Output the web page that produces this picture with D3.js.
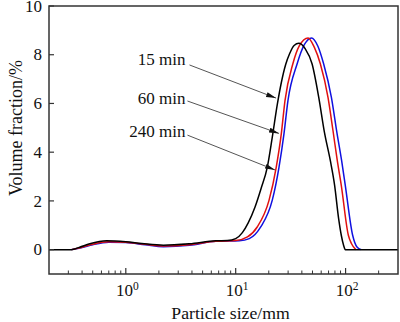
<!DOCTYPE html>
<html><head><meta charset="utf-8">
<script src="https://cdn.jsdelivr.net/npm/d3@7"></script>
<style>body{margin:0;background:#fff}svg{display:block}</style>
</head><body>
<svg id="c" width="400" height="322"></svg>
<script>
const sizes15 = [0.2,0.32,0.38,0.47,0.67,1.0,1.4,2.2,3.8,6.6,8.4,10,11.5,13,15,17,19.4,21.5,23.9,26,28.5,31,34,37.6,43,49.6,57,64.3,72.6,79.5,86.4,91.4,95.9,99.5,300];
const values15 = [0,0,0.1,0.24,0.36,0.32,0.25,0.18,0.24,0.36,0.37,0.45,0.7,1.1,1.75,2.5,3.39,4.6,5.95,6.85,7.6,8.05,8.38,8.47,8.24,7.62,6.25,4.8,3.66,2.64,1.28,0.59,0.18,0,0];
const sizes60 = [0.32,0.4,0.5,0.7,1.0,1.5,2.2,3.8,6.6,10,12.8,15.7,20.1,23.4,26,28.1,33.1,38,45.6,52,59,69.2,76.8,84,91.4,106,113,124];
const values60 = [0,0.1,0.22,0.32,0.3,0.22,0.15,0.2,0.34,0.37,0.52,0.93,2.02,3.39,4.75,6.12,7.62,8.37,8.69,8.3,7.62,6.25,4.89,3.66,2.64,0.59,0.25,0];
const sizes240 = [0.32,0.4,0.5,0.7,1.0,1.5,2.2,3.8,6.6,10.8,13.3,16.9,21.5,24.8,27.5,29.9,36.2,42,49,56,63.2,74.3,83.4,92,99.4,116,127,139];
const values240 = [0,0.09,0.2,0.3,0.29,0.2,0.12,0.18,0.34,0.36,0.45,0.93,2.02,3.39,4.75,6.12,7.62,8.4,8.69,8.35,7.62,6.25,4.8,3.66,2.64,0.59,0.11,0];
const seriesNames = ["240 min","60 min","15 min"];
const seriesColors = ["#1010e0","#e01010","#000000"];
const yTicks = [0,2,4,6,8,10];
const xMajor = [1,10,100];
const xMajorExp = ["0","1","2"];
const xMinor = [0.3,0.4,0.5,0.6,0.7,0.8,0.9,2,3,4,5,6,7,8,9,20,30,40,50,60,70,80,90,200];
// annotation: label end point and arrow tip (data units)
const annoLabel = [[3.49,7.58],[3.49,5.98],[3.49,4.61]];
const annoStart = [[3.8,7.58],[3.64,6.1],[3.64,4.7]];
const annoTip = [[23.3,6.22],[24.8,4.77],[22.8,3.27]];
const annoText = ["15 min","60 min","240 min"];

const FONT = '"Liberation Serif"';
const svg = d3.select("#c");
const L=49,R=398,T=6,B=274;
const x = d3.scaleLog().domain([0.2,300]).range([L,R]);
const y = d3.scaleLinear().domain([-1,10]).range([B,T]);

const defs = svg.append("defs");
defs.append("marker").attr("id","ah").attr("viewBox","0 0 10 6").attr("refX",10).attr("refY",3)
  .attr("markerWidth",10).attr("markerHeight",6).attr("markerUnits","userSpaceOnUse").attr("orient","auto")
  .append("path").attr("d","M0,0.5 L10,3 L0,5.5 Z").attr("fill","#111");

const data = [
  d3.zip(sizes240,values240),
  d3.zip(sizes60,values60),
  d3.zip(sizes15,values15)
];
const line = d3.line().x(d=>x(d[0])).y(d=>y(d[1])).curve(d3.curveMonotoneX);
svg.append("g").selectAll("path").data(data).join("path")
  .attr("d",line).attr("fill","none").attr("stroke",(d,i)=>seriesColors[i]).attr("stroke-width",1.5);

// frame
svg.append("rect").attr("x",L).attr("y",T).attr("width",R-L).attr("height",B-T)
  .attr("fill","none").attr("stroke","#333").attr("stroke-width",1.5);

// y ticks
const gy = svg.append("g");
gy.selectAll("line").data(yTicks).join("line")
  .attr("x1",L).attr("x2",L+5).attr("y1",d=>y(d)).attr("y2",d=>y(d)).attr("stroke","#333").attr("stroke-width",1.2);
gy.selectAll("text").data(yTicks).join("text")
  .attr("x",L-7).attr("y",d=>y(d)).attr("dy","0.33em").attr("text-anchor","end").attr("font-size",17).attr("fill","#111")
  .style("font-family",FONT).text(d=>d);

// x ticks
const gx = svg.append("g");
gx.selectAll("line.mi").data(xMinor).join("line").attr("class","mi")
  .attr("x1",d=>x(d)).attr("x2",d=>x(d)).attr("y1",B).attr("y2",B-3.5).attr("stroke","#333").attr("stroke-width",1);
gx.selectAll("line.ma").data(xMajor).join("line").attr("class","ma")
  .attr("x1",d=>x(d)).attr("x2",d=>x(d)).attr("y1",B).attr("y2",B-6).attr("stroke","#333").attr("stroke-width",1.2);
const xl = gx.selectAll("text").data(xMajor).join("text")
  .attr("x",d=>x(d)+1.5).attr("y",296).attr("text-anchor","middle").attr("font-size",17).attr("fill","#111")
  .style("font-family",FONT);
xl.append("tspan").text("10");
xl.append("tspan").attr("dy",-6).attr("font-size",11.5).text((d,i)=>xMajorExp[i]);

// axis titles
svg.append("text").attr("x",(L+R)/2+7).attr("y",319).attr("text-anchor","middle").attr("font-size",17.7).attr("fill","#111")
  .style("font-family",FONT).text("Particle size/mm");
svg.append("text").attr("transform","translate(22,128) rotate(-90)").attr("text-anchor","middle").attr("font-size",18).attr("fill","#111")
  .style("font-family",FONT).text("Volume fraction/%");

// annotations
const ga = svg.append("g");
ga.selectAll("line").data(annoText).join("line")
  .attr("x1",(d,i)=>x(annoStart[i][0])).attr("y1",(d,i)=>y(annoStart[i][1]))
  .attr("x2",(d,i)=>x(annoTip[i][0])).attr("y2",(d,i)=>y(annoTip[i][1]))
  .attr("stroke","#555").attr("stroke-width",1).attr("marker-end","url(#ah)");
ga.selectAll("text").data(annoText).join("text")
  .attr("x",(d,i)=>x(annoLabel[i][0])).attr("y",(d,i)=>y(annoLabel[i][1]))
  .attr("text-anchor","end").attr("font-size",17).attr("fill","#111")
  .style("font-family",FONT).text(d=>d);
</script>
</body></html>
